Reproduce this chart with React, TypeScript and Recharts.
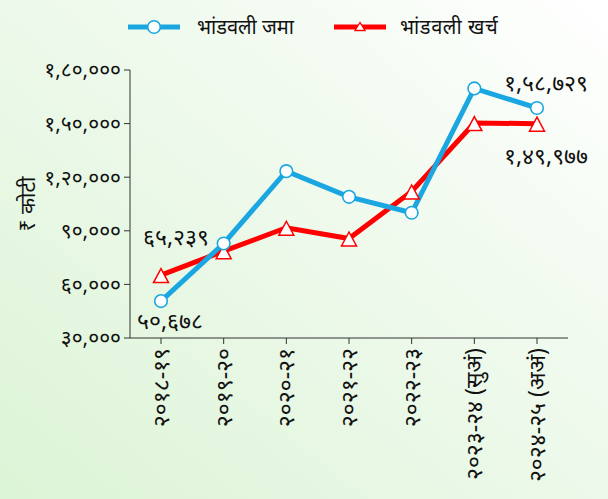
import React from 'react';
import { LineChart, Line, XAxis, YAxis, Legend, LabelList } from 'recharts';

const categories = ['२०१८-१९', '२०१९-२०', '२०२०-२१', '२०२१-२२', '२०२२-२३', '२०२३-२४ (सुअं)', '२०२४-२५ (अअं)'];
const jamaValues = [50678, 82900, 123400, 109000, 100100, 169700, 158729];
const kharchaValues = [65239, 78600, 91700, 85700, 112000, 150300, 149977];
const jamaLabels = ['५०,६७८', '', '', '', '', '', '१,५८,७२९'];
const kharchaLabels = ['६५,२३९', '', '', '', '', '', '१,४९,९७७'];
const yTicks = [30000, 60000, 90000, 120000, 150000, 180000];
const yTickLabels = ['३०,०००', '६०,०००', '९०,०००', '१,२०,०००', '१,५०,०००', '१,८०,०००'];
const seriesNames = ['भांडवली जमा', 'भांडवली खर्च'];
const yAxisTitle = '₹ कोटी';

const BLUE = '#1aa7e1';
const RED = '#ff0000';
const AXIS = '#333333';
const FONT = '"Noto Sans", "Noto Sans Devanagari", "Lohit Devanagari", sans-serif';

const data = categories.map((c, i) => ({
  year: c,
  jama: jamaValues[i],
  kharcha: kharchaValues[i],
  jamaLabel: jamaLabels[i],
  kharchaLabel: kharchaLabels[i],
}));

const CircleDot = (props: any) => {
  const { cx, cy } = props;
  if (cx == null || cy == null) return null;
  return <circle cx={cx} cy={cy} r={6.3} fill="#ffffff" stroke={BLUE} strokeWidth={1.6} />;
};

const TriangleDot = (props: any) => {
  const { cx, cy } = props;
  if (cx == null || cy == null) return null;
  return (
    <polygon
      points={`${cx},${cy - 6.5} ${cx - 7.5},${cy + 7.5} ${cx + 7.5},${cy + 7.5}`}
      fill="#ffffff"
      stroke={RED}
      strokeWidth={1.5}
    />
  );
};

const makeLabel = (offsets: Record<number, [number, number]>) => (props: any) => {
  const { x, y, value, index } = props;
  if (!value) return null;
  const off = offsets[index] || [0, 0];
  return (
    <text
      x={x + off[0]}
      y={y + off[1]}
      textAnchor="middle"
      dominantBaseline="central"
      fontSize={23}
      fontFamily={FONT}
      fill="#111"
    >
      {value}
    </text>
  );
};

const jamaLabelRenderer = makeLabel({ 0: [9, 19], 6: [9, -26] });
const kharchaLabelRenderer = makeLabel({ 0: [15, -39], 6: [9, 31] });

const XTick = (props: any) => {
  const { x, y, payload } = props;
  return (
    <text
      x={x}
      y={y}
      transform={`rotate(-90, ${x}, ${y})`}
      textAnchor="end"
      dy="0.35em"
      fontSize={23}
      fontFamily={FONT}
      fill="#111"
    >
      {payload.value}
    </text>
  );
};

const yFormatter = (v: number) => {
  const i = yTicks.indexOf(v);
  return i >= 0 ? yTickLabels[i] : String(v);
};

const renderLegend = () => (
  <div
    style={{
      display: 'flex',
      justifyContent: 'flex-start',
      alignItems: 'center',
      fontFamily: FONT,
      fontSize: 20,
      color: '#111',
      paddingLeft: 128,
    }}
  >
    <svg width={52} height={16} style={{ marginRight: 17 }}>
      <line x1={0} y1={8} x2={52} y2={8} stroke={BLUE} strokeWidth={5} />
      <circle cx={26} cy={8} r={6.3} fill="#fff" stroke={BLUE} strokeWidth={1.6} />
    </svg>
    <span style={{ display: 'inline-block', width: 137 }}>{seriesNames[0]}</span>
    <svg width={52} height={16} style={{ marginRight: 14 }}>
      <line x1={0} y1={8} x2={52} y2={8} stroke={RED} strokeWidth={5} />
      <polygon points="26,3.5 21,11.5 31,11.5" fill="#fff" stroke={RED} strokeWidth={1.3} />
    </svg>
    <span style={{ display: 'inline-block', letterSpacing: 0.6 }}>{seriesNames[1]}</span>
  </div>
);

export default function App() {
  return (
    <div
      style={{
        position: 'absolute',
        top: 0,
        left: 0,
        width: 608,
        height: 499,
        background: 'linear-gradient(to bottom left, #ffffff 0%, #f0faee 40%, #dcf4d6 100%)',
      }}
    >
      <LineChart
        width={608}
        height={499}
        data={data}
        margin={{ top: 70, right: 40, left: 0, bottom: 0 }}
      >
        <Legend
          verticalAlign="middle"
          align="center"
          content={renderLegend}
          wrapperStyle={{ top: 13, left: 0, width: 608 }}
        />
        <XAxis
          dataKey="year"
          height={161}
          padding={{ left: 31, right: 31 }}
          tick={<XTick />}
          tickSize={6}
          tickMargin={4}
          interval={0}
          stroke={AXIS}
          tickLine={{ stroke: AXIS }}
        />
        <YAxis
          width={130}
          domain={[30000, 180000]}
          ticks={yTicks}
          tickFormatter={yFormatter}
          tickSize={6}
          tickMargin={3}
          stroke={AXIS}
          tick={{ fontSize: 21, fontFamily: FONT, fill: '#111' }}
          label={{
            value: yAxisTitle,
            angle: -90,
            position: 'insideLeft',
            offset: 0,
            style: { fontSize: 21, fontFamily: FONT, fill: '#111', textAnchor: 'middle' },
            dx: 28,
          }}
        />
        <Line
          type="linear"
          dataKey="kharcha"
          name={seriesNames[1]}
          stroke={RED}
          strokeWidth={5}
          dot={<TriangleDot />}
          activeDot={false}
          isAnimationActive={false}
        >
          <LabelList dataKey="kharchaLabel" content={kharchaLabelRenderer} />
        </Line>
        <Line
          type="linear"
          dataKey="jama"
          name={seriesNames[0]}
          stroke={BLUE}
          strokeWidth={5}
          dot={<CircleDot />}
          activeDot={false}
          isAnimationActive={false}
        >
          <LabelList dataKey="jamaLabel" content={jamaLabelRenderer} />
        </Line>
      </LineChart>
    </div>
  );
}
